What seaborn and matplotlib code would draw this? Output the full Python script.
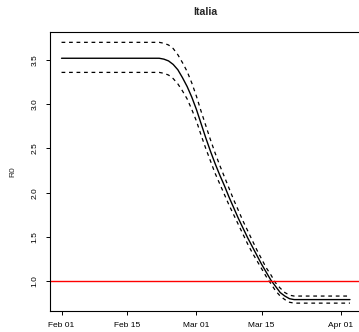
import numpy as np
import pandas as pd
import matplotlib
matplotlib.use("Agg")
import matplotlib.pyplot as plt
import matplotlib.dates as mdates
import seaborn as sns

# R0 estimate for Italy (solid) with lower / upper bounds (dashed)
dates = ["2020-02-01",
         "2020-02-22", "2020-02-23", "2020-02-24", "2020-02-25", "2020-02-26",
         "2020-02-27", "2020-02-28", "2020-02-29", "2020-03-01", "2020-03-02",
         "2020-03-03", "2020-03-04", "2020-03-05", "2020-03-06", "2020-03-07",
         "2020-03-08", "2020-03-09", "2020-03-10", "2020-03-11", "2020-03-12",
         "2020-03-13", "2020-03-14", "2020-03-15", "2020-03-16", "2020-03-17",
         "2020-03-18", "2020-03-19", "2020-03-20", "2020-03-21", "2020-03-22",
         "2020-04-03"]
r0 = [3.52,
      3.52, 3.51, 3.49, 3.45, 3.39, 3.30, 3.20, 3.08, 2.94, 2.78,
      2.62, 2.47, 2.33, 2.20, 2.08, 1.95, 1.83, 1.71, 1.60, 1.49,
      1.39, 1.29, 1.19, 1.10, 1.01, 0.94, 0.87, 0.83, 0.80, 0.79,
      0.79]
r0_upper = [3.70,
            3.70, 3.69, 3.67, 3.63, 3.56, 3.47, 3.37, 3.24, 3.09, 2.92,
            2.76, 2.60, 2.45, 2.31, 2.18, 2.05, 1.92, 1.80, 1.68, 1.57,
            1.46, 1.35, 1.25, 1.15, 1.07, 0.98, 0.92, 0.87, 0.84, 0.83,
            0.83]
r0_lower = [3.36,
            3.36, 3.35, 3.33, 3.29, 3.23, 3.15, 3.06, 2.94, 2.81, 2.65,
            2.50, 2.36, 2.22, 2.10, 1.98, 1.86, 1.75, 1.64, 1.53, 1.42,
            1.32, 1.23, 1.14, 1.05, 0.97, 0.89, 0.83, 0.79, 0.76, 0.75,
            0.75]
threshold = 1.0

tick_dates = ["2020-02-01", "2020-02-15", "2020-03-01", "2020-03-15", "2020-04-01"]
tick_labels = ["Feb 01", "Feb 15", "Mar 01", "Mar 15", "Apr 01"]
y_ticks = [1.0, 1.5, 2.0, 2.5, 3.0, 3.5]

df = pd.DataFrame({"date": pd.to_datetime(dates), "r0": r0,
                   "upper": r0_upper, "lower": r0_lower})

sns.set_style("ticks")
plt.rcParams["font.family"] = ["Liberation Sans", "DejaVu Sans"]

fig = plt.figure(figsize=(3.59, 3.32), dpi=100)
ax = fig.add_axes([50 / 359, 21 / 332, 311.5 / 359, 279 / 332])

# central estimate and bounds
sns.lineplot(data=df, x="date", y="r0", ax=ax, color="black", lw=1.0)
for col in ["upper", "lower"]:
    sns.lineplot(data=df, x="date", y=col, ax=ax, color="black", lw=0.9)
    ax.lines[-1].set_dashes((3, 3))
ax.axhline(threshold, color="red", lw=1.0)

# R-style limits (4% padding)
start = pd.Timestamp("2020-02-01") - pd.Timedelta(days=2.48)
end = pd.Timestamp("2020-04-03") + pd.Timedelta(days=2.48)
ax.set_xlim(start, end)
ax.set_ylim(0.661, 3.817)

ax.set_xticks(mdates.date2num(pd.to_datetime(tick_dates)))
ax.set_xticklabels(tick_labels)
ax.set_yticks(y_ticks)
ax.set_yticklabels([f"{v:.1f}" for v in y_ticks], rotation=90, va="center")
ax.tick_params(axis="both", labelsize=6, length=3.2, width=0.7,
               color="black", labelcolor="black", pad=5)

for s in ax.spines.values():
    s.set_color("black")
    s.set_linewidth(0.8)

ax.set_xlabel("")
ax.set_ylabel("R0", fontsize=6, labelpad=11)
ax.set_title("Italia", fontsize=7.6, fontweight="bold", pad=12)

fig.savefig("out.png", dpi=100)
